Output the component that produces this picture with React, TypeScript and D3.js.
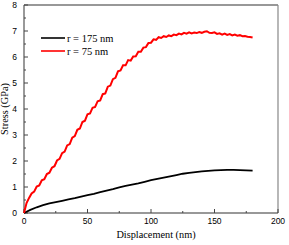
import * as d3 from "d3"
import { useEffect } from "react"

const redX = d3.range(0, 182, 2)
const redY = [
  0, 0.38, 0.58, 0.75, 0.82, 1.02, 1.06, 1.26, 1.3, 1.5, 1.55, 1.74, 1.8, 2.02, 2.08, 2.3, 2.36, 2.6, 2.65,
  2.9, 2.96, 3.2, 3.25, 3.5, 3.55, 3.8, 3.83, 4.05, 4.08, 4.3, 4.33, 4.57, 4.6, 4.86, 4.9, 5.15, 5.2, 5.45,
  5.48, 5.68, 5.68, 5.88, 5.86, 6.02, 6.03, 6.2, 6.2, 6.36, 6.38, 6.54, 6.55, 6.68, 6.66, 6.76, 6.73, 6.8,
  6.77, 6.83, 6.8, 6.86, 6.84, 6.9, 6.87, 6.93, 6.9, 6.95, 6.91, 6.94, 6.92, 6.96, 6.93, 6.97, 6.99, 6.93,
  6.92, 6.95, 6.89, 6.91, 6.86, 6.9, 6.85, 6.88, 6.83, 6.86, 6.82, 6.84, 6.8, 6.81, 6.78, 6.77, 6.75,
]
const blackX = d3.range(0, 185, 5)
const blackY = [
  0, 0.12, 0.22, 0.3, 0.37, 0.42, 0.47, 0.52, 0.57, 0.63, 0.69, 0.74, 0.8, 0.86, 0.92, 0.99, 1.04, 1.09, 1.14,
  1.2, 1.26, 1.31, 1.36, 1.41, 1.46, 1.51, 1.54, 1.57, 1.6, 1.62, 1.64, 1.65, 1.66, 1.66, 1.65, 1.64, 1.63,
]
const xTicks = [0, 50, 100, 150, 200]
const yTicks = [0, 1, 2, 3, 4, 5, 6, 7, 8]
const legendLabels = ["r = 175 nm", "r = 75 nm"]
const colors = ["#000000", "#ff0000"]

const left = 24
const right = 278
const top = 5
const bottom = 213

export default function App() {
  useEffect(() => {
    document.body.style.margin = "0"
  }, [])

  const x = d3.scaleLinear().domain([0, 200]).range([left, right])
  const y = d3.scaleLinear().domain([0, 8]).range([bottom, top])

  const line = d3
    .line<[number, number]>()
    .x((d) => x(d[0]))
    .y((d) => y(d[1]))

  const redPts = redX.map((v, i): [number, number] => [v, redY[i]])
  const blackPts = blackX.map((v, i): [number, number] => [v, blackY[i]])

  const xMinor = d3.range(0, 201, 25)
  const yMinor = d3.range(0, 8.01, 0.5)
  const tickFont = "Liberation Sans, Arial, sans-serif"
  const textFont = "Liberation Serif, Times New Roman, serif"

  return (
    <svg width={289} height={245} style={{ display: "block", background: "#fff" }}>
      {/* frame */}
      <line x1={left} x2={right} y1={top} y2={top} stroke="#333" strokeWidth={1.2} />
      <line x1={right} x2={right} y1={top} y2={bottom} stroke="#888" strokeWidth={1.2} />
      <line x1={left} x2={left} y1={top} y2={bottom} stroke="#555" strokeWidth={1.2} />
      <line x1={left} x2={right} y1={bottom} y2={bottom} stroke="#333" strokeWidth={1.2} />

      {/* ticks */}
      {xMinor.map((t) => (
        <line key={"xt" + t} x1={x(t)} x2={x(t)} y1={bottom} y2={bottom - (t % 50 === 0 ? 4 : 2)} stroke="#444" />
      ))}
      {yMinor.map((t) => (
        <line key={"yt" + t} x1={left} x2={left + (t % 1 === 0 ? 4 : 2)} y1={y(t)} y2={y(t)} stroke="#444" />
      ))}

      {xTicks.map((t) => (
        <text key={"xl" + t} x={x(t)} y={224} fontSize={8.5} fontFamily={tickFont} textAnchor="middle" fill="#000">
          {t}
        </text>
      ))}
      {yTicks.map((t) => (
        <text key={"yl" + t} x={17} y={y(t) + 3} fontSize={8.5} fontFamily={tickFont} textAnchor="end" fill="#000">
          {t}
        </text>
      ))}

      <text x={156} y={238} fontSize={10.3} fontFamily={textFont} textAnchor="middle" fill="#000">
        Displacement (nm)
      </text>
      <text
        transform={`translate(8,${(top + bottom) / 2}) rotate(-90)`}
        fontSize={10.3}
        fontFamily={textFont}
        textAnchor="middle"
        fill="#000"
      >
        Stress (GPa)
      </text>

      {/* data */}
      <path d={line(blackPts) || ""} fill="none" stroke={colors[0]} strokeWidth={1.8} />
      <path d={line(redPts) || ""} fill="none" stroke={colors[1]} strokeWidth={2} />

      {/* legend */}
      {legendLabels.map((lab, i) => (
        <g key={lab} transform={`translate(41,${38 + i * 13})`}>
          <line x1={0} x2={24} y1={0} y2={0} stroke={colors[i]} strokeWidth={1.6} />
          <text x={26} y={3.5} fontSize={10.5} fontFamily={textFont} fill="#000">
            {lab}
          </text>
        </g>
      ))}
    </svg>
  )
}
